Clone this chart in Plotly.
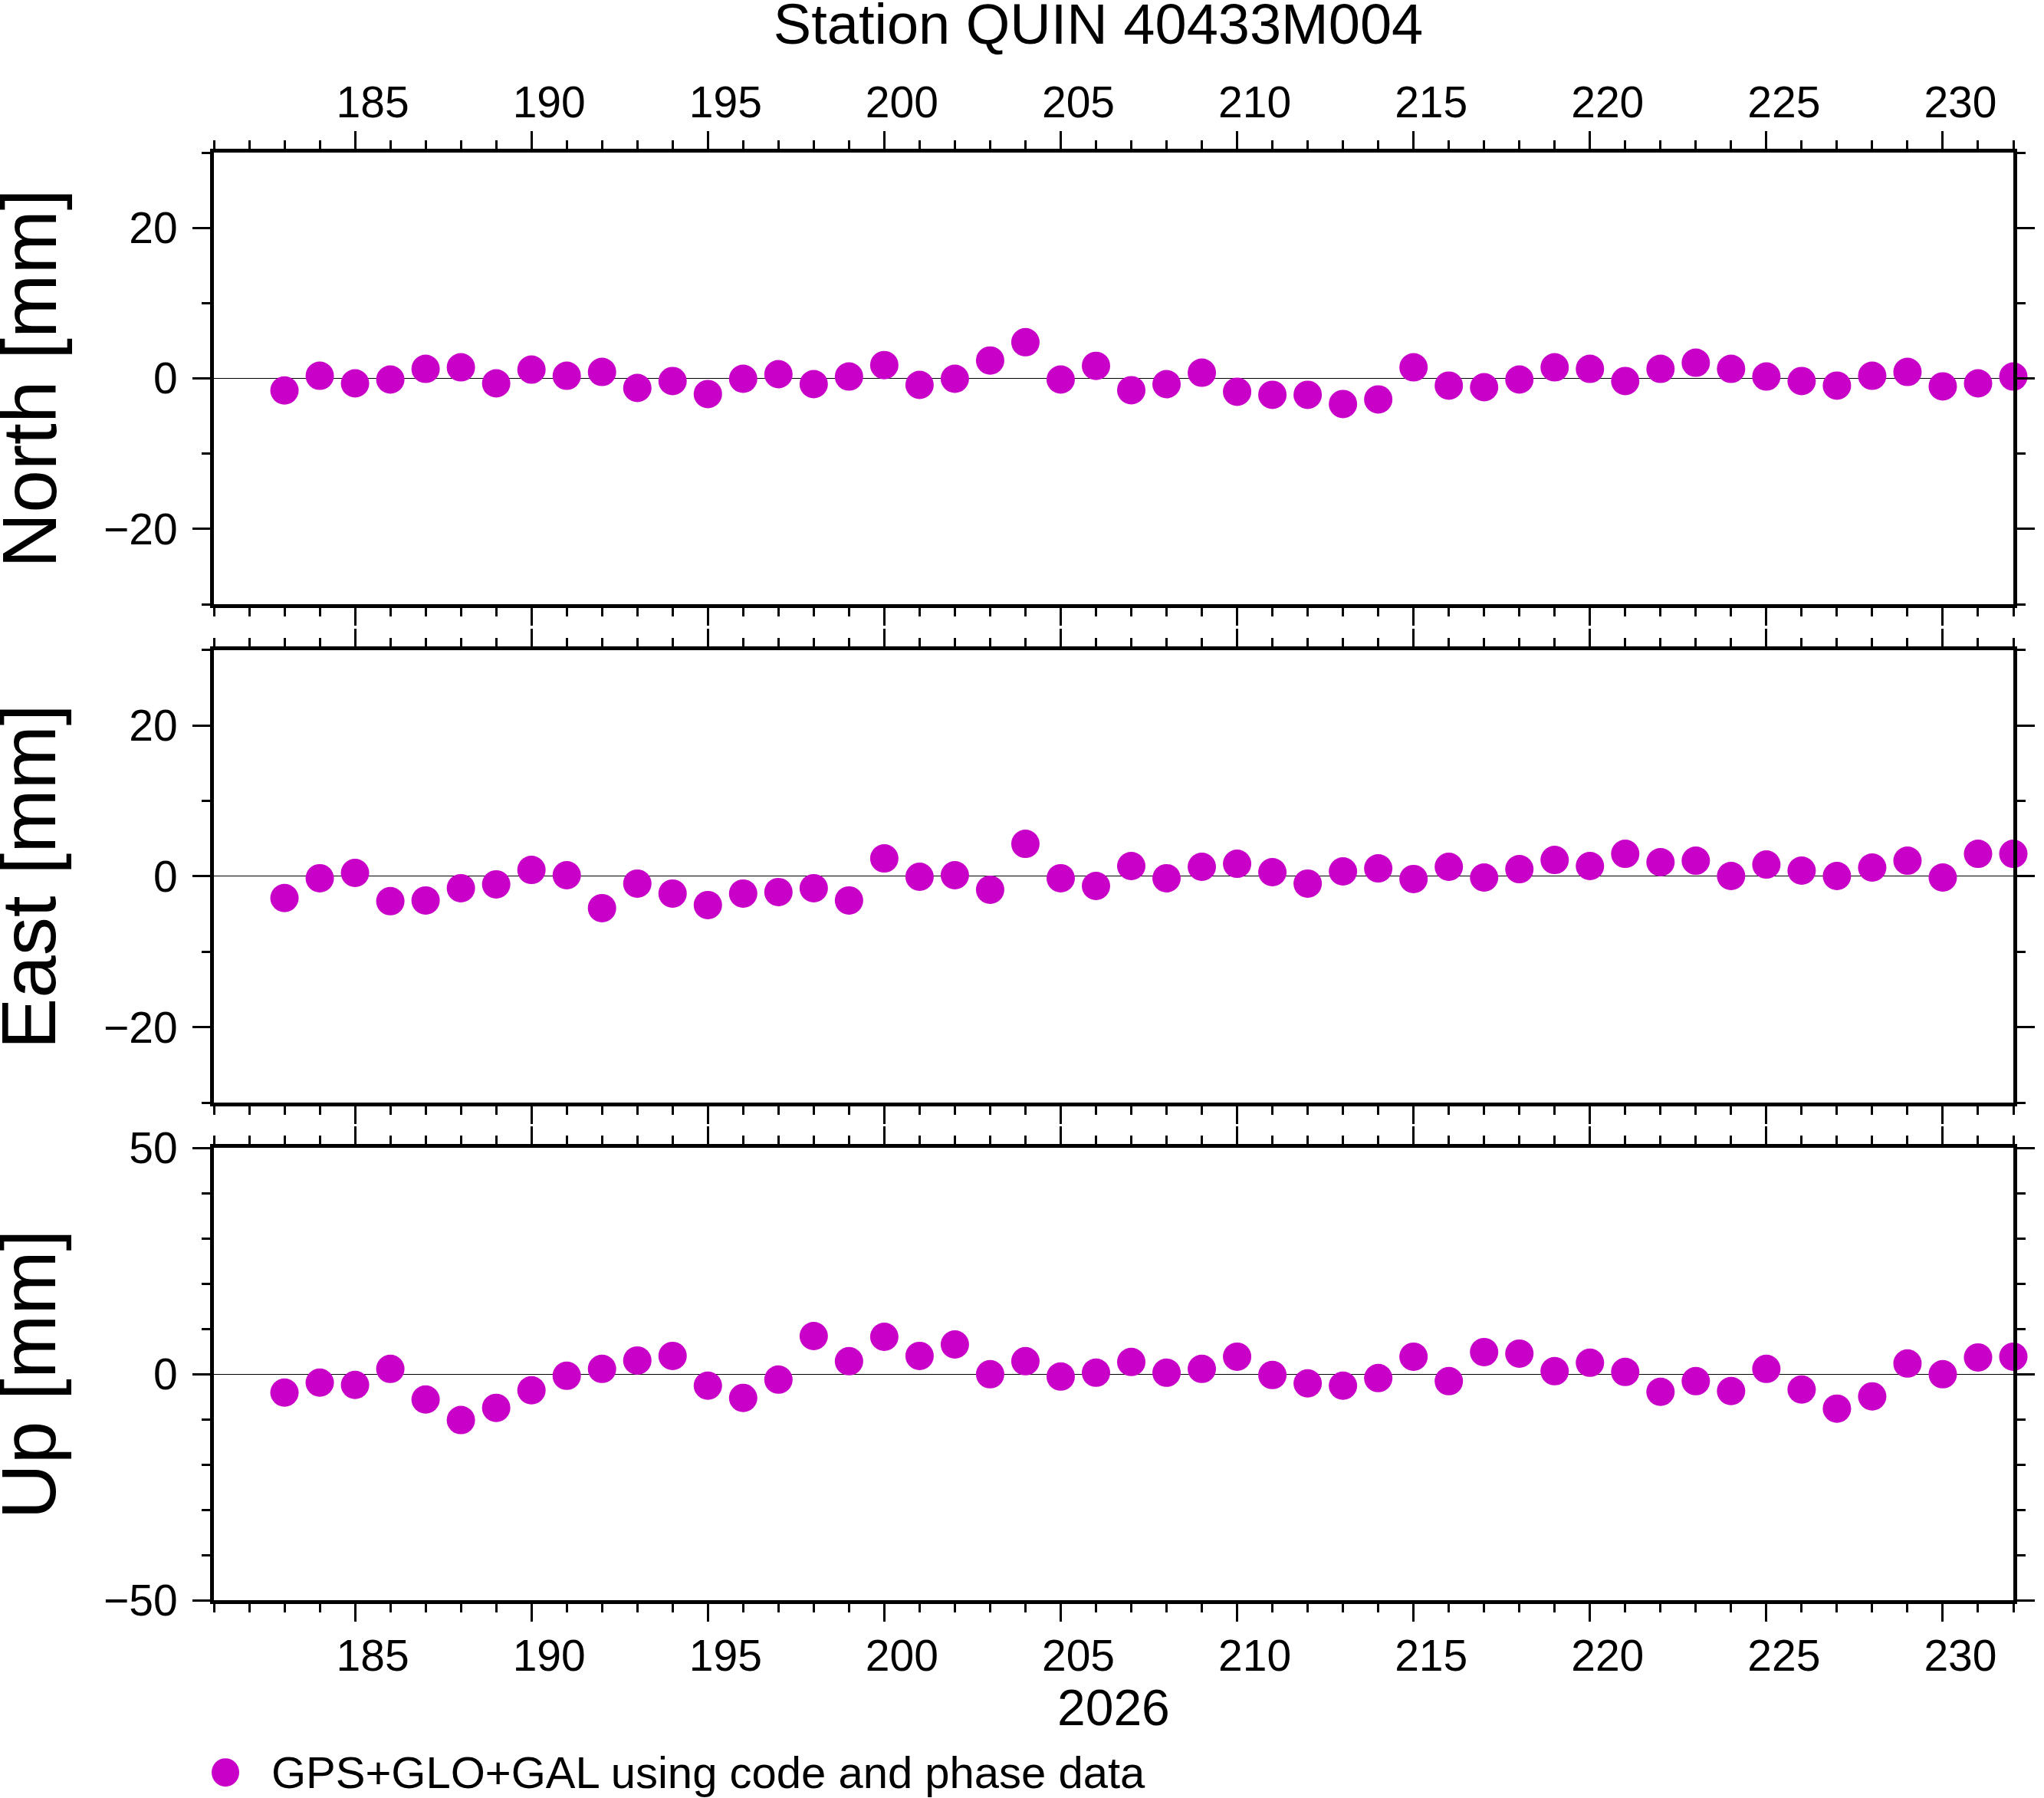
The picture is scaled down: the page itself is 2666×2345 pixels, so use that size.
import plotly.graph_objects as go

# ---- data (day of year 2026, residuals in mm) --------------------------------------
days = [183, 184, 185, 186, 187, 188, 189, 190, 191, 192, 193, 194, 195, 196, 197, 198, 199,
        200, 201, 202, 203, 204, 205, 206, 207, 208, 209, 210, 211, 212, 213, 214, 215, 216,
        217, 218, 219, 220, 221, 222, 223, 224, 225, 226, 227, 228, 229, 230, 231, 232]
north = [-1.60, 0.35, -0.66, -0.15, 1.27, 1.47, -0.66, 1.17, 0.35, 0.86, -1.27, -0.35, -2.08,
         -0.05, 0.56, -0.76, 0.25, 1.77, -0.86, -0.05, 2.38, 4.81, -0.15, 1.67, -1.57, -0.76,
         0.76, -1.77, -2.18, -2.18, -3.40, -2.79, 1.47, -0.96, -1.17, -0.15, 1.47, 1.27, -0.35,
         1.27, 2.08, 1.27, 0.25, -0.35, -0.96, 0.35, 0.86, -1.06, -0.66, 0.25]
east = [-2.87, -0.25, 0.46, -3.29, -3.19, -1.57, -1.06, 0.86, 0.15, -4.21, -0.96, -2.28, -3.80,
        -2.28, -2.08, -1.57, -3.19, 2.38, -0.05, 0.15, -1.77, 4.31, -0.25, -1.27, 1.37, -0.25,
        1.27, 1.67, 0.56, -0.96, 0.66, 1.06, -0.35, 1.27, -0.15, 0.96, 2.18, 1.37, 2.99, 1.88,
        2.08, 0.05, 1.57, 0.76, 0.05, 1.17, 2.08, -0.15, 2.99, 2.99]
up = [-4.11, -1.91, -2.42, 1.13, -5.63, -10.19, -7.49, -3.60, -0.39, 1.13, 2.98, 4.00, -2.59,
      -5.29, -1.24, 8.39, 2.82, 8.22, 4.00, 6.53, -0.06, 2.82, -0.56, 0.28, 2.65, 0.28, 1.13,
      3.83, -0.23, -2.08, -2.59, -0.90, 3.83, -1.58, 4.84, 4.50, 0.62, 2.48, 0.45, -3.94, -1.58,
      -3.77, 1.13, -3.43, -7.66, -4.95, 2.31, -0.06, 3.66, 3.83]

panels = ["North [mm]", "East [mm]", "Up [mm]"]
xrange_ = [181, 232]
major_days = [185, 190, 195, 200, 205, 210, 215, 220, 225, 230]
day_labels = ["185", "190", "195", "200", "205", "210", "215", "220", "225", "230"]
title = "Station QUIN 40433M004"
year = "2026"
legend_text = "GPS+GLO+GAL using code and phase data"

MAG = "rgb(200,0,200)"
FONT = "Liberation Sans, Arial, sans-serif"
W, H = 2666, 2345
ML, MR, MT, MB = 279, 26, 199, 258
domains = [[0.6880, 1.0], [0.3437, 0.6563], [0.0, 0.3125]]

fig = go.Figure()
for i, vals in enumerate([north, east, up]):
    fig.add_trace(go.Scatter(x=days, y=vals, mode="markers", cliponaxis=False, showlegend=False,
                             marker=dict(size=37, color=MAG, line=dict(width=0)),
                             xaxis=f"x{i+1 if i else ''}", yaxis=f"y{i+1 if i else ''}"))
# empty traces so the day-label axes get drawn
fig.add_trace(go.Scatter(x=[], y=[], xaxis="x4", yaxis="y", showlegend=False, hoverinfo="skip"))
fig.add_trace(go.Scatter(x=[], y=[], xaxis="x5", yaxis="y3", showlegend=False, hoverinfo="skip"))

frame = dict(showline=True, linecolor="black", linewidth=5, mirror="ticks", showgrid=False,
             ticks="outside", tickcolor="black", tickwidth=3, ticklen=23)
lay = {}
for i in range(3):
    k = "" if i == 0 else str(i + 1)
    lay[f"xaxis{k}"] = dict(frame, domain=[0, 1], anchor=f"y{k}", range=xrange_,
                            tickmode="array", tickvals=major_days, showticklabels=False,
                            zeroline=False,
                            minor=dict(ticks="outside", dtick=1, tick0=0, ticklen=11,
                                       tickwidth=3, tickcolor="black"))
    yr = [-50, 50] if i == 2 else [-30, 30]
    yt = [-50, 0, 50] if i == 2 else [-20, 0, 20]
    lay[f"yaxis{k}"] = dict(frame, domain=domains[i], anchor=f"x{k}", range=yr,
                            tickmode="array", tickvals=yt, ticklabelstandoff=8,
                            tickfont=dict(family=FONT, size=57, color="black"),
                            zeroline=True, zerolinecolor="black", zerolinewidth=1,
                            minor=dict(ticks="outside", dtick=10, tick0=0, ticklen=11,
                                       tickwidth=3, tickcolor="black"))

# day labels sit in the middle of each day interval (top of first panel, bottom of last)
lab_vals = [d + 0.5 for d in major_days]
lab = dict(range=xrange_, domain=[0, 1], tickmode="array", tickvals=lab_vals,
           ticktext=day_labels, showline=False, showgrid=False, zeroline=False, ticks="",
           tickfont=dict(family=FONT, size=57, color="black"))
lay["xaxis4"] = dict(lab, overlaying="x", anchor="y", side="top", ticklabelstandoff=34)
lay["xaxis5"] = dict(lab, overlaying="x3", anchor="y3", side="bottom", ticklabelstandoff=34)

ann = []
for i, name in enumerate(panels):
    ann.append(dict(text=name, xref="paper", yref="paper", x=-0.1029,
                    y=(domains[i][0] + domains[i][1]) / 2, xanchor="center", yanchor="middle",
                    textangle=-90, showarrow=False, font=dict(family=FONT, size=100, color="black")))
ann.append(dict(text=year, xref="paper", yref="paper", x=0.5, y=-0.0742, xanchor="center",
                yanchor="middle", showarrow=False, font=dict(family=FONT, size=66, color="black")))
ann.append(dict(text=legend_text, xref="paper", yref="paper", x=0.0309, y=-0.119,
                xanchor="left", yanchor="middle", showarrow=False,
                font=dict(family=FONT, size=58, color="black")))

# legend swatch (plotly's own legend caps symbol size)
shapes = [dict(type="circle", xref="paper", yref="paper", xsizemode="pixel", ysizemode="pixel",
               xanchor=0.0064, yanchor=-0.119, x0=-18, x1=18, y0=-18.5, y1=18.5,
               fillcolor=MAG, line=dict(width=0))]

fig.update_layout(**lay)
fig.update_layout(width=W, height=H, margin=dict(l=ML, r=MR, t=MT, b=MB),
                  plot_bgcolor="white", paper_bgcolor="white", showlegend=False,
                  annotations=ann, shapes=shapes,
                  title=dict(text=title, x=0.4915, xref="paper", xanchor="center",
                             y=0.9868, yref="container", yanchor="middle",
                             font=dict(family=FONT, size=74, color="black")))
# drop the default page margin so the figure sits exactly in the window
fig.write_html("out.html", config={"displayModeBar": False},
               post_script="document.body.style.margin='0';document.body.style.overflow='hidden';")
